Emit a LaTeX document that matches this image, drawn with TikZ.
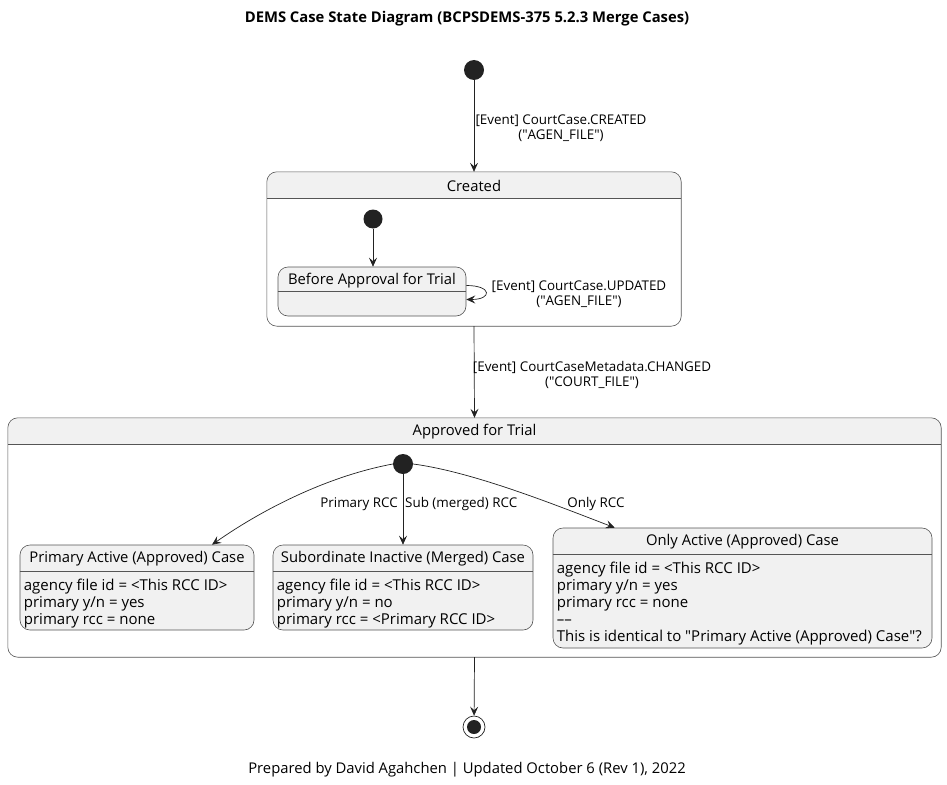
\documentclass[tikz,border=0pt]{standalone}
\usepackage{fontspec}
\setmainfont{Open Sans}
\usetikzlibrary{arrows.meta,calc}
\definecolor{statefill}{HTML}{F1F1F1}
\definecolor{bd}{HTML}{555555}
\definecolor{dot}{HTML}{222222}
\tikzset{
  sbox/.style={draw=none,fill=white,rounded corners=10,inner sep=0,minimum width=#1},
  simple/.style={draw=bd,fill=statefill,rounded corners=10,inner sep=0,line width=0.6pt},
  initdot/.style={circle,fill=dot,draw=none,minimum size=20,inner sep=0},
  arr/.style={-{Stealth[length=9pt,width=8pt,inset=3.5pt]},line width=0.7pt,draw=dot},
  lbl/.style={font=\fontsize{13.4}{15}\selectfont,align=center,inner sep=1pt},
  ttl/.style={font=\fontsize{14.8}{16}\selectfont,inner sep=0},
  body/.style={font=\fontsize{15}{17}\selectfont,align=left,anchor=north west,inner sep=0},
}
\begin{document}
\begin{tikzpicture}[x=1pt,y=-1pt]
\useasboundingbox (0,0) rectangle (947,784);
% title
\node[font=\bfseries\fontsize{14.8}{16}\selectfont] (title) at (467,19) {DEMS Case State Diagram (BCPSDEMS-375 5.2.3 Merge Cases)};
% composite Created
\node[sbox=414,minimum height=154] (created) at (474,249) {};
\begin{scope}
\clip (created.north west) rectangle ($(created.north east)+(0,26)$);
\fill[statefill,rounded corners=10] (created.north west) rectangle (created.south east);
\end{scope}
\draw[bd,line width=0.6pt,rounded corners=10] (created.north west) rectangle (created.south east);
\draw[bd,line width=0.6pt] ($(created.north west)+(0,26)$) -- ($(created.north east)+(0,26)$);
\node[ttl] (createdt) at ($(created.north)+(0,14)$) {Created};
% composite Approved
\node[sbox=933,minimum height=239] (approved) at (474.5,537.5) {};
\begin{scope}
\clip (approved.north west) rectangle ($(approved.north east)+(0,26)$);
\fill[statefill,rounded corners=10] (approved.north west) rectangle (approved.south east);
\end{scope}
\draw[bd,line width=0.6pt,rounded corners=10] (approved.north west) rectangle (approved.south east);
\draw[bd,line width=0.6pt] ($(approved.north west)+(0,26)$) -- ($(approved.north east)+(0,26)$);
\node[ttl] (approvedt) at ($(approved.north)+(0,14)$) {Approved for Trial};
% initial states
\node[initdot] (init1) at (474,70) {};
\node[initdot,minimum size=19] (init2) at (373,219) {};
\node[initdot] (init3) at (403,464) {};
% Before Approval
\node[simple,minimum width=188,minimum height=49] (before) at (372,291.5) {};
\draw[bd,line width=0.6pt] ($(before.north west)+(0,25)$) -- ($(before.north east)+(0,25)$);
\node[ttl] (beforet) at ($(before.north)+(0,13.5)$) {Before Approval for Trial};
% Primary
\node[simple,minimum width=234,minimum height=85] (primary) at (137,587.5) {};
\draw[bd,line width=0.6pt] ($(primary.north west)+(0,27)$) -- ($(primary.north east)+(0,27)$);
\node[ttl] (primaryt) at ($(primary.north)+(0,14)$) {Primary Active (Approved) Case};
\node[body] (primaryb) at ($(primary.north west)+(4,34)$) {agency file id = <This RCC ID>\\primary y/n = yes\\primary rcc = none};
% Subordinate
\node[simple,minimum width=260,minimum height=85] (sub) at (403,587.5) {};
\draw[bd,line width=0.6pt] ($(sub.north west)+(0,27)$) -- ($(sub.north east)+(0,27)$);
\node[ttl] (subt) at ($(sub.north)+(0,14)$) {Subordinate Inactive (Merged) Case};
\node[body] (subb) at ($(sub.north west)+(4,34)$) {agency file id = <This RCC ID>\\primary y/n = no\\primary rcc = <Primary RCC ID>};
% Only
\node[simple,minimum width=379,minimum height=120] (only) at (742.5,588) {};
\draw[bd,line width=0.6pt] ($(only.north west)+(0,27)$) -- ($(only.north east)+(0,27)$);
\node[ttl] (onlyt) at ($(only.north)+(0,14)$) {Only Active (Approved) Case};
\node[body] (onlyb) at ($(only.north west)+(4,34)$) {agency file id = <This RCC ID>\\primary y/n = yes\\primary rcc = none\\\textendash\textendash\\This is identical to \textquotedbl Primary Active (Approved) Case\textquotedbl ?};
% final
\node[circle,draw=dot,line width=0.7pt,minimum size=22,inner sep=0] (final) at (474,727) {};
\fill[dot] (final.center) circle (7);
% edges
\draw[arr] (init1) -- (created.north);
\node[lbl] (l1) at (561,128) {[Event] CourtCase.CREATED\\(\textquotedbl AGEN\_FILE\textquotedbl)};
\draw[arr] (init2) -- (before.north -| init2);
\draw[arr] ($(before.east)+(0,-6)$) .. controls ($(before.east)+(26,-6)$) and ($(before.east)+(26,8)$) .. ($(before.east)+(0,8)$);
\node[lbl] (l2) at (579,294) {[Event] CourtCase.UPDATED\\(\textquotedbl AGEN\_FILE\textquotedbl)};
\draw[arr] (created.south) -- (approved.north);
\node[lbl] (l3) at (592,375) {[Event] CourtCaseMetadata.CHANGED\\(\textquotedbl COURT\_FILE\textquotedbl)};
\draw[arr] (init3.west) .. controls ($(init3)+(-75,12)$) and ($(init3)+(-140,45)$) .. ($(primary.north)+(75,0)$);
\node[lbl,anchor=east] (l4) at ($(init3)+(-4,40)$) {Primary RCC};
\draw[arr] (init3) -- (sub.north);
\node[lbl,anchor=west] (l5) at ($(init3)+(1,40)$) {Sub (merged) RCC};
\draw[arr] (init3.east) .. controls ($(init3)+(70,8)$) and ($(init3)+(150,40)$) .. ($(only.north west)+(62,0)$);
\node[lbl] (l6) at (596,504) {Only RCC};
\draw[arr] (approved.south) -- (final);
% footer
\node[font=\fontsize{14.8}{16}\selectfont] (footer) at (467,770) {Prepared by David Agahchen | Updated October 6 (Rev 1), 2022};
\end{tikzpicture}
\end{document}
